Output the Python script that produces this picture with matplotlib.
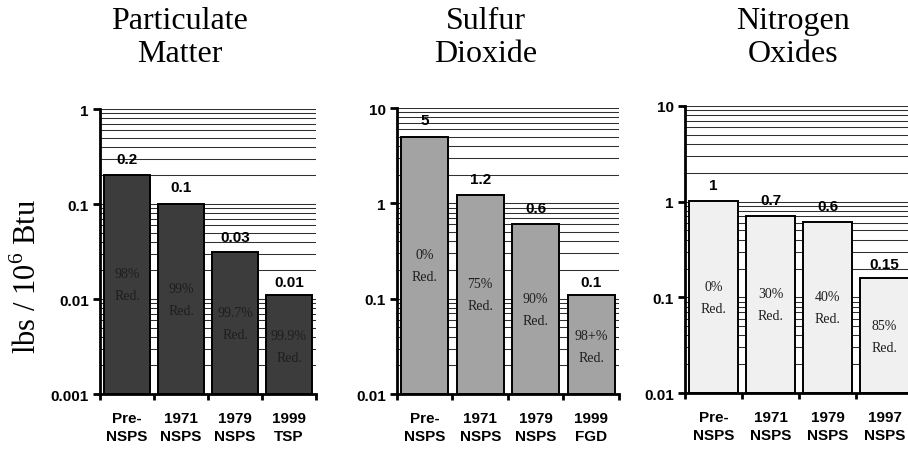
import matplotlib
matplotlib.use('Agg')
import matplotlib.pyplot as plt
from matplotlib.ticker import FixedLocator, NullFormatter, LogLocator
import numpy as np

# particulate matter
pm_labels = ['Pre-\nNSPS', '1971\nNSPS', '1979\nNSPS', '1999\nTSP']
pm_values = [0.2, 0.1, 0.03, 0.01]
pm_text = ['0.2', '0.1', '0.03', '0.01']
pm_reduction = ['98%', '99%', '99.7%', '99.9%']
pm_ticks = [0.001, 0.01, 0.1, 1]
pm_ticklabels = ['0.001', '0.01', '0.1', '1']

# sulfur dioxide
so2_labels = ['Pre-\nNSPS', '1971\nNSPS', '1979\nNSPS', '1999\nFGD']
so2_values = [5, 1.2, 0.6, 0.1]
so2_text = ['5', '1.2', '0.6', '0.1']
so2_reduction = ['0%', '75%', '90%', '98+%']
so2_ticks = [0.01, 0.1, 1, 10]
so2_ticklabels = ['0.01', '0.1', '1', '10']

# nitrogen oxides
nox_labels = ['Pre-\nNSPS', '1971\nNSPS', '1979\nNSPS', '1997\nNSPS']
nox_values = [1, 0.7, 0.6, 0.15]
nox_text = ['1', '0.7', '0.6', '0.15']
nox_reduction = ['0%', '30%', '40%', '85%']
nox_ticks = [0.01, 0.1, 1, 10]
nox_ticklabels = ['0.01', '0.1', '1', '10']

SANS = 'Liberation Sans'
SERIF = 'Liberation Serif'


def draw_panel(fig, rect, labels, values, texts, reductions, ticks, ticklabels,
               facecolor, title, title_x):
    """画一个对数柱状图面板"""
    ax = fig.add_axes(rect)
    x = np.arange(len(values))
    ax.set_yscale('log')
    ax.set_ylim(ticks[0], ticks[-1])
    ax.set_xlim(-0.5, len(values) - 0.5)

    # 网格
    ax.yaxis.set_major_locator(FixedLocator(ticks))
    ax.yaxis.set_minor_locator(LogLocator(base=10, subs=np.arange(2, 10)))
    ax.yaxis.set_minor_formatter(NullFormatter())
    ax.grid(True, which='both', axis='y', color='#303030', linewidth=0.75)
    ax.set_axisbelow(True)

    ax.bar(x, values, width=0.85, bottom=ticks[0], color=facecolor,
           edgecolor='black', linewidth=1.4, zorder=2)

    for xi, v, t, r in zip(x, values, texts, reductions):
        ax.annotate(t, (xi, v), xytext=(0, 7), textcoords='offset points',
                    ha='center', va='bottom', fontsize=11, fontweight='bold',
                    family=SANS, zorder=1)
        ax.text(xi, np.sqrt(ticks[0] * v), r + '\nRed.', ha='center', va='center',
                fontsize=10, family=SERIF, color='#1e1e1e', linespacing=1.9, zorder=3)

    ax.set_yticks(ticks)
    ax.set_yticklabels(ticklabels, fontsize=11, fontweight='bold', family=SANS)
    ax.tick_params(axis='y', which='major', direction='out', length=5, width=2, pad=3)
    ax.tick_params(axis='y', which='minor', length=0)

    ax.set_xticks(x)
    ax.set_xticklabels(labels, fontsize=11, fontweight='bold', family=SANS,
                       linespacing=1.35)
    ax.set_xticks(np.arange(len(values) + 1) - 0.5, minor=True)
    ax.tick_params(axis='x', which='major', length=0, pad=12)
    ax.tick_params(axis='x', which='minor', direction='out', length=4, width=2)

    for side in ['top', 'right']:
        ax.spines[side].set_visible(False)
    for side in ['left', 'bottom']:
        ax.spines[side].set_linewidth(2)

    fig.text(title_x, 0.916, title, ha='center', va='center', fontsize=23,
             family=SERIF, linespacing=1.2)
    return ax


if __name__ == '__main__':
    fig = plt.figure(figsize=(9.08, 4.52), dpi=100)
    draw_panel(fig, [0.1101, 0.1261, 0.2379, 0.6305], pm_labels, pm_values, pm_text,
               pm_reduction, pm_ticks, pm_ticklabels, '#3c3c3c',
               'Particulate\nMatter', 0.198)
    draw_panel(fig, [0.4372, 0.1261, 0.2445, 0.6327], so2_labels, so2_values, so2_text,
               so2_reduction, so2_ticks, so2_ticklabels, '#a3a3a3',
               'Sulfur\nDioxide', 0.535)
    draw_panel(fig, [0.7544, 0.1283, 0.2511, 0.6350], nox_labels, nox_values, nox_text,
               nox_reduction, nox_ticks, nox_ticklabels, '#f0f0f0',
               'Nitrogen\nOxides', 0.873)
    fig.text(0.030, 0.387, r'lbs / 10$^{\mathregular{6}}$ Btu', rotation=90,
             ha='center', va='center', fontsize=22, family=SERIF)
    fig.savefig('out.png', dpi=100)
    plt.close(fig)
